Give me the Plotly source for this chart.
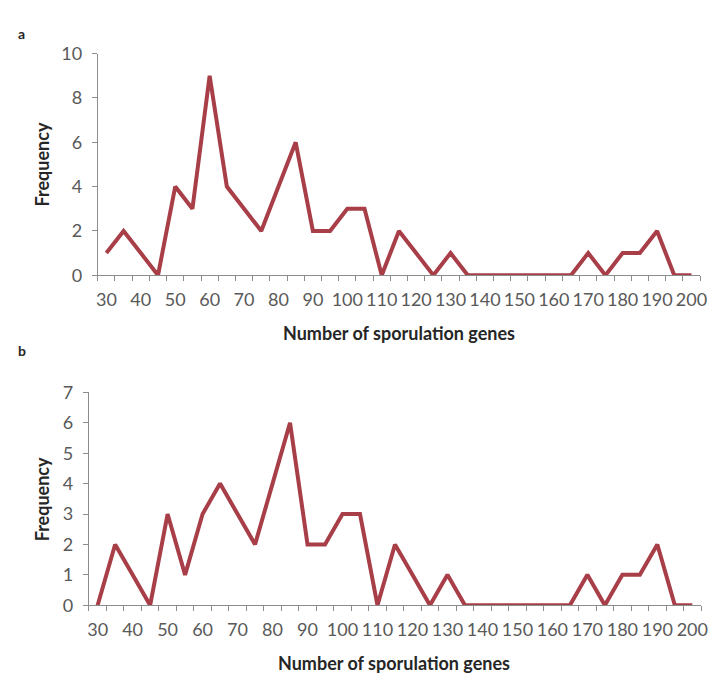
import plotly.graph_objects as go

genes = [30, 35, 40, 45, 50, 55, 60, 65, 70, 75, 80, 85, 90, 95, 100, 105, 110, 115,
         120, 125, 130, 135, 140, 145, 150, 155, 160, 165, 170, 175, 180, 185, 190, 195, 200]
freq_a = [1, 2, 1, 0, 4, 3, 9, 4, 3, 2, 4, 6, 2, 2, 3, 3, 0, 2,
          1, 0, 1, 0, 0, 0, 0, 0, 0, 0, 1, 0, 1, 1, 2, 0, 0]
freq_b = [0, 2, 1, 0, 3, 1, 3, 4, 3, 2, 4, 6, 2, 2, 3, 3, 0, 2,
          1, 0, 1, 0, 0, 0, 0, 0, 0, 0, 1, 0, 1, 1, 2, 0, 0]
x_labels = list(range(30, 201, 10))

W, H = 714, 684
LINE = "#A83F48"
AX = "#8C8C8C"
TICKFONT = dict(family="Lato", size=18, color="#595959")
TITLEFONT = dict(family="Lato", size=18, color="#262626")

fig = go.Figure()
fig.add_trace(go.Scatter(x=genes, y=freq_a, mode="lines", line=dict(color=LINE, width=4),
                         xaxis="x", yaxis="y", cliponaxis=False, showlegend=False))
fig.add_trace(go.Scatter(x=genes, y=freq_b, mode="lines", line=dict(color=LINE, width=4),
                         xaxis="x2", yaxis="y2", cliponaxis=False, showlegend=False))

def xax(domain, anchor):
    return dict(domain=domain, anchor=anchor, range=[27.5, 202.5], tickmode="array",
                tickvals=x_labels, ticktext=[str(v) for v in x_labels], ticks="",
                showline=True, linecolor=AX, linewidth=1, showgrid=False, zeroline=False,
                tickfont=TICKFONT, ticklabelstandoff=8,
                minor=dict(tick0=27.5, dtick=5, ticks="outside", ticklen=5,
                           tickcolor=AX, tickwidth=1, showgrid=False))

def yax(domain, anchor, rng, dt):
    return dict(domain=domain, anchor=anchor, range=rng, dtick=dt, tick0=0,
                ticks="outside", ticklen=5, tickcolor=AX, showline=True, linecolor=AX,
                linewidth=1, showgrid=False, zeroline=False, tickfont=TICKFONT,
                ticklabelstandoff=6)

fig.update_layout(
    width=W, height=H, margin=dict(l=0, r=0, t=0, b=0),
    paper_bgcolor="white", plot_bgcolor="white",
    xaxis=xax([97 / W, 707 / W], "y"),
    yaxis=yax([1 - 272 / H, 1 - 43 / H], "x", [0, 10], 2),
    xaxis2=xax([88 / W, 708 / W], "y2"),
    yaxis2=yax([1 - 613 / H, 1 - 393 / H], "x2", [0, 7], 1),
)

ann = [
    dict(text="<b>a</b>", x=20 / W, y=1 - 22 / H),
    dict(text="<b>b</b>", x=20 / W, y=1 - 350 / H),
]
for a in ann:
    fig.add_annotation(xref="paper", yref="paper", x=a["x"], y=a["y"], text=a["text"],
                       showarrow=False, font=dict(family="Lato", size=14, color="#262626"),
                       xanchor="center", yanchor="middle")

titles = [
    dict(text="<b>Number of sporulation genes</b>", x=402 / W, y=1 - 332 / H, angle=0),
    dict(text="<b>Number of sporulation genes</b>", x=397 / W, y=1 - 673 / H, angle=0),
    dict(text="<b>Frequency</b>", x=40 / W, y=1 - 157 / H, angle=-90),
    dict(text="<b>Frequency</b>", x=40 / W, y=1 - 503 / H, angle=-90),
]
for t in titles:
    fig.add_annotation(xref="paper", yref="paper", x=t["x"], y=t["y"], text=t["text"],
                       textangle=t["angle"], showarrow=False, font=TITLEFONT,
                       xanchor="center", yanchor="middle")

fig.write_html("out.html")
